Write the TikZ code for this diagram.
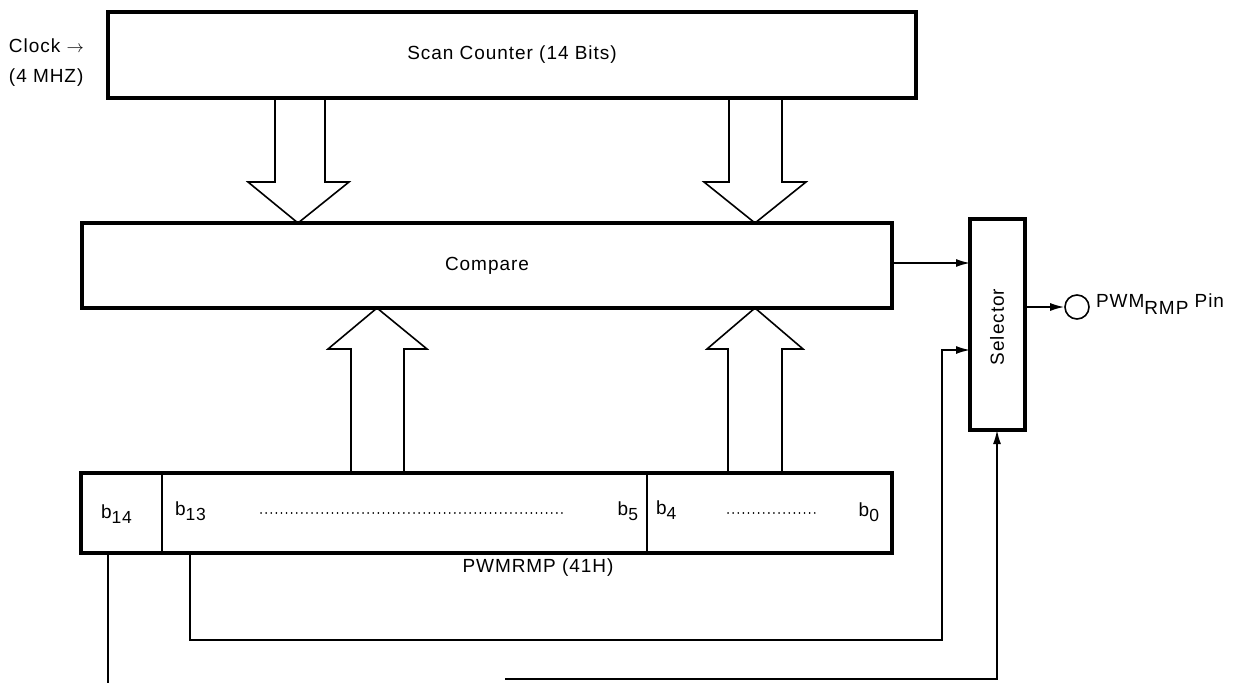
\documentclass[tikz,border=0pt]{standalone}
\usepackage{fontspec}
\setmainfont{Liberation Sans}[LetterSpace=5.0]
\usetikzlibrary{arrows.meta,calc}
\begin{document}
\begin{tikzpicture}[x=1pt,y=-1pt,
  font=\fontsize{19}{21}\selectfont,
  box/.style={draw, line width=3.2pt, inner sep=0pt, outer sep=0pt, rectangle},
  conn/.style={line width=1.6pt},
  sig/.style={line width=1.6pt, -{Latex[length=14pt,width=8pt]}},
  barrow/.style={line width=1.6pt, line join=miter},
  dotline/.style={line width=1.7pt, dash pattern=on 0.1pt off 5pt, line cap=round},
  lbl/.style={inner sep=0pt, outer sep=0pt}]
\useasboundingbox (0,0) rectangle (1235,683);
% main boxes
\node[box, minimum width=808pt, minimum height=86pt] (scan) at (512,55) {Scan Counter (14 Bits)};
\node[box, minimum width=810pt, minimum height=85pt] (cmp) at (487,265.5) {Compare};
\node[box, minimum width=55pt, minimum height=211pt] (sel) at (997.5,324.5) {};
\node[lbl, rotate=90] (seltext) at (997,327) {Selector};
\node[box, minimum width=811pt, minimum height=80pt] (reg) at (486.5,513) {};
% register dividers
\draw[conn] (162,0 |- reg.north) -- (162,0 |- reg.south);
\draw[conn] (647,0 |- reg.north) -- (647,0 |- reg.south);
% register labels
\newcommand{\bsub}[2]{#1\raisebox{-5pt}{\fontsize{17.5}{19}\selectfont #2}}
\node[lbl, anchor=west] (b14) at (101,514) {\bsub{b}{14}};
\node[lbl, anchor=west] (b13) at (175,511) {\bsub{b}{13}};
\node[lbl, anchor=east] (b5) at (638,511) {\bsub{b}{5}};
\node[lbl, anchor=west] (b4) at (656,510) {\bsub{b}{4}};
\node[lbl, anchor=east] (b0) at (879,512) {\bsub{b}{0}};
\coordinate (d1a) at (261,513);
\coordinate (d1b) at (565,513);
\coordinate (d2a) at (728,513);
\coordinate (d2b) at (817,513);
\draw[dotline] (d1a) -- (d1b);
\draw[dotline] (d2a) -- (d2b);
\node[lbl] (regname) at (538,568) {PWMRMP (41H)};
% clock
\node[lbl, anchor=west] (clk) at (9,46) {Clock $\rightarrow$};
\node[lbl, anchor=west] (mhz) at (9,78) {(4 MHZ)};
% block arrows down
\draw[barrow] (275,0 |- scan.south) -- (275,182) -- (248,182) -- (298,0 |- cmp.north) -- (349,182) -- (325,182) -- (325,0 |- scan.south);
\draw[barrow] (729,0 |- scan.south) -- (729,182) -- (704,182) -- (755,0 |- cmp.north) -- (806,182) -- (782,182) -- (782,0 |- scan.south);
% block arrows up
\draw[barrow] (351,0 |- reg.north) -- (351,349) -- (328,349) -- (377,0 |- cmp.south) -- (427,349) -- (404,349) -- (404,0 |- reg.north);
\draw[barrow] (728,0 |- reg.north) -- (728,349) -- (707,349) -- (755,0 |- cmp.south) -- (803,349) -- (782,349) -- (782,0 |- reg.north);
% signals
\draw[sig] (cmp.east |- 0,263) -- (sel.west |- 0,263);
\coordinate (c13a) at (190,640);
\coordinate (c13b) at (942,640);
\draw[sig] (190,0 |- reg.south) -- (c13a) -- (c13b) -- (942,350) -- (sel.west |- 0,350);
\coordinate (c14) at (108,683);
\draw[conn] (108,0 |- reg.south) -- (c14);
\coordinate (cb) at (505,679);
\draw[sig] (cb) -- (997,679) -- (sel.south -| 997,0);
% output pin
\node[draw, circle, line width=1.6pt, minimum size=24pt, inner sep=0pt] (pin) at (1077,307) {};
\draw[sig] (sel.east |- pin.west) -- (pin.west);
\node[lbl, anchor=west] (pinlbl) at (1096,304) {PWM\raisebox{-7pt}{RMP} Pin};
\end{tikzpicture}
\end{document}
